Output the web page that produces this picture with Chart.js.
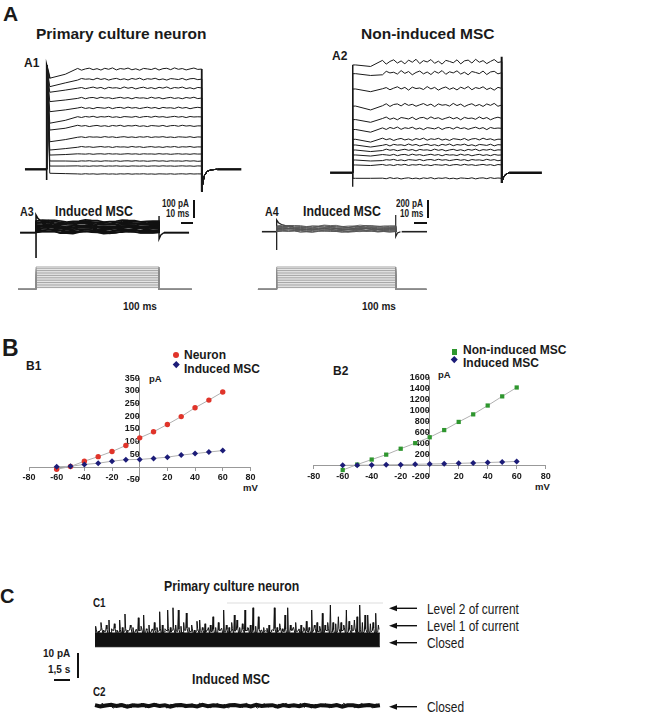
<!DOCTYPE html>
<html>
<head>
<meta charset="utf-8">
<script src="https://cdn.jsdelivr.net/npm/chart.js@4.4.1/dist/chart.umd.min.js"></script>
<style>
  body { margin: 0; width: 661px; height: 716px; position: relative; overflow: hidden; background: #fff;
         font-family: "Liberation Sans", Arial, sans-serif; color: #1a1a1a; }
  canvas { position: absolute; }
  .t { position: absolute; font-weight: bold; white-space: nowrap; line-height: 1; }
  .r { font-weight: normal; }
  .nar { display: inline-block; transform: scaleX(0.82); transform-origin: left top; }
  .bar { position: absolute; background: #111; }
</style>
</head>
<body>

<!-- panel A -->
<div class="t" style="left:3px;top:3px;font-size:21px">A</div>
<div class="t" style="left:36px;top:26px;font-size:15.5px">Primary culture neuron</div>
<div class="t" style="left:361px;top:26px;font-size:15.5px">Non-induced MSC</div>
<div class="t" style="left:24px;top:57px;font-size:12px">A1</div>
<div class="t" style="left:332px;top:50px;font-size:12px">A2</div>
<div class="t" style="left:20px;top:205px;font-size:13px"><span class="nar">A3</span></div>
<div class="t" style="left:55px;top:203px;font-size:15px"><span class="nar">Induced MSC</span></div>
<div class="t" style="left:162px;top:198.5px;font-size:10px"><span class="nar">100 pA</span></div>
<div class="t" style="left:166px;top:208.5px;font-size:10px"><span class="nar">10 ms</span></div>
<div class="t" style="left:265px;top:205px;font-size:13px"><span class="nar">A4</span></div>
<div class="t" style="left:303px;top:203px;font-size:15px"><span class="nar">Induced MSC</span></div>
<div class="t" style="left:396px;top:198.5px;font-size:10px"><span class="nar">200 pA</span></div>
<div class="t" style="left:400px;top:208.5px;font-size:10px"><span class="nar">10 ms</span></div>
<div class="t" style="left:123px;top:301.5px;font-size:10px">100 ms</div>
<div class="t" style="left:362px;top:301.5px;font-size:10px">100 ms</div>
<div class="bar" style="left:193px;top:200px;width:2px;height:18px"></div>
<div class="bar" style="left:181px;top:222px;width:12px;height:2px"></div>
<div class="bar" style="left:427px;top:200px;width:2px;height:18px"></div>
<div class="bar" style="left:414px;top:222px;width:13px;height:2px"></div>

<!-- panel B -->
<div class="t" style="left:2px;top:337px;font-size:23px">B</div>
<div class="t" style="left:26px;top:360px;font-size:12px">B1</div>
<div class="t" style="left:333px;top:365px;font-size:12px">B2</div>
<div class="t" style="left:184px;top:349px;font-size:12px">Neuron</div>
<div class="t" style="left:184px;top:363px;font-size:12px">Induced MSC</div>
<div class="t" style="left:463px;top:343.5px;font-size:12px">Non-induced MSC</div>
<div class="t" style="left:463px;top:356.5px;font-size:12px">Induced MSC</div>
<div style="position:absolute;left:173px;top:352px;width:6px;height:6px;border-radius:50%;background:#e0342a"></div>
<div style="position:absolute;left:173.5px;top:361.5px;width:4.5px;height:4.5px;background:#1c1c78;transform:rotate(45deg)"></div>
<div style="position:absolute;left:451.5px;top:349px;width:5.5px;height:5.5px;background:#2e962e"></div>
<div style="position:absolute;left:452px;top:357px;width:4.5px;height:4.5px;background:#1c1c78;transform:rotate(45deg)"></div>
<div class="t" style="left:149px;top:373.5px;font-size:9.5px">pA</div>
<div class="t" style="left:243px;top:482.5px;font-size:9.5px">mV</div>
<div class="t" style="left:438px;top:369.5px;font-size:9.5px">pA</div>
<div class="t" style="left:535px;top:481.5px;font-size:9.5px">mV</div>

<!-- panel C -->
<div class="t" style="left:0px;top:585.5px;font-size:20px">C</div>
<div class="t" style="left:164px;top:578px;font-size:15px"><span class="nar">Primary culture neuron</span></div>
<div class="t" style="left:93px;top:596.5px;font-size:12px"><span class="nar">C1</span></div>
<div class="t" style="left:192px;top:671px;font-size:15px"><span class="nar">Induced MSC</span></div>
<div class="t" style="left:93px;top:685.5px;font-size:12px"><span class="nar">C2</span></div>
<div class="t r" style="left:427px;top:601.5px;font-size:14.5px"><span class="nar">Level 2 of current</span></div>
<div class="t r" style="left:427px;top:619px;font-size:14.5px"><span class="nar">Level 1 of current</span></div>
<div class="t r" style="left:427px;top:635.5px;font-size:14.5px"><span class="nar">Closed</span></div>
<div class="t r" style="left:427px;top:700px;font-size:14.5px"><span class="nar">Closed</span></div>
<div class="t" style="left:43px;top:648.5px;font-size:10px">10 pA</div>
<div class="t" style="left:48px;top:664.5px;font-size:10px">1,5 s</div>
<div class="bar" style="left:77px;top:653px;width:2px;height:25px"></div>
<div class="bar" style="left:54px;top:678.5px;width:16px;height:2px"></div>
<div style="position:absolute;left:227px;top:601.5px;width:156px;height:2px;background:#eeeeee"></div>
<svg width="661" height="716" style="position:absolute;left:0;top:0">
  <g stroke="#111" stroke-width="1.4" fill="#111">
    <line x1="394" y1="608.3" x2="417" y2="608.3"/><polygon points="389,608.3 397,605.3 397,611.3" stroke="none"/>
    <line x1="394" y1="625.7" x2="417" y2="625.7"/><polygon points="389,625.7 397,622.7 397,628.7" stroke="none"/>
    <line x1="394" y1="642.7" x2="417" y2="642.7"/><polygon points="389,642.7 397,639.7 397,645.7" stroke="none"/>
    <line x1="394" y1="706.7" x2="417" y2="706.7"/><polygon points="389,706.7 397,703.7 397,709.7" stroke="none"/>
  </g>
</svg>

<canvas id="a1" width="230" height="145" style="left:20px;top:55px"></canvas>
<canvas id="a2" width="230" height="150" style="left:325px;top:50px"></canvas>
<canvas id="a3" width="185" height="57" style="left:15px;top:205px"></canvas>
<canvas id="a4" width="180" height="57" style="left:255px;top:205px"></canvas>
<canvas id="s3" width="185" height="35" style="left:15px;top:260px"></canvas>
<canvas id="s4" width="180" height="35" style="left:255px;top:260px"></canvas>
<canvas id="b1" width="275" height="130" style="left:0px;top:370px"></canvas>
<canvas id="b2" width="280" height="130" style="left:290px;top:370px"></canvas>
<canvas id="c1" width="300" height="55" style="left:90px;top:595px"></canvas>
<canvas id="c2" width="300" height="26" style="left:90px;top:690px"></canvas>

<script>
// voltage steps (mV), holding potential, step from 0 to 100 ms
const voltageSteps = [-60, -50, -40, -30, -20, -10, 0, 10, 20, 30, 40, 50, 60];
const holdingPotential = -70;

// B: I-V curves (pA)
const neuronCurrent = [-9, 2, 23, 41, 61, 85, 115, 139, 168, 199, 234, 264, 296];
const inducedCurrentB1 = [1, 3, 10, 15, 23, 29, 30, 34, 39, 47, 53, 59, 65];
const nonInducedCurrent = [-79, 20, 111, 200, 307, 408, 515, 645, 793, 930, 1090, 1256, 1417];
const inducedCurrentB2 = [6, 8, 10, 15, 18, 25, 30, 35, 42, 50, 57, 66, 77];

// A1: neuron current traces (pA), one per voltage step
const a1Plateau = [-26, 18, 46, 85, 124, 179, 241, 291, 341, 396, 452, 501, 557];
const a1Early = [-22, 18, 46, 79, 107, 153, 218, 256, 320, 376, 428, 459, 506];
const a1Mid = [-24, 18, 46, 82, 115, 165, 228, 272, 330, 385, 440, 480, 528];
const a1NoiseAmp = [1.5, 1.5, 2, 2, 3, 3, 4, 4, 5, 5, 6, 6, 7];
const a1Spike = [-59, 579];
const a1TailTimes = [100, 100.8, 101.8, 103.5, 106, 110];
const a1TailCurrent = [-124, -75, -35, -12, -3, 0];

// A2: non-induced MSC traces (pA)
const a2Plateau = [-62, 86, 141, 197, 252, 308, 371, 493, 604, 752, 937, 1111, 1233];
const a2Early = [-62, 86, 141, 197, 252, 308, 371, 480, 590, 740, 930, 1100, 1197];
const a2Mid = [-62, 80, 130, 185, 235, 285, 340, 450, 560, 697, 900, 1080, 1180];
const a2NoiseAmp = [8, 8, 9, 10, 11, 12, 14, 16, 18, 20, 22, 26, 30];
const a2Spike = [-156, 1197];
const a2OffSpike = [1289, -114];
const a2TailTimes = [100, 101, 102.5, 105];
const a2TailCurrent = [-114, -60, -20, 0];

// A3 / A4: induced MSC traces (pA)
const a3Wave = [4, 6, 3, -2, -5, -3, 2, 5, 4, 0, -4, -5, -1, 3, 5, 2, -2, -4, -1];
const a3OnTimes = [0, 0, 1.5, 4, 8, 14];
const a3OnCurrent = [-141, 98, 80, 65, 58, 54];
const a3OffTimes = [100, 100, 101.5, 104];
const a3OffCurrent = [93, -35, -12, 0];
const a4OnCurrent = [-203, 130, 100, 80, 65, 60];
const a4OffCurrent = [186, -56, -15, 0];

const traceNoise = [0.2, -0.6, 0.9, -0.3, 0.5, -0.9, 0.1, 0.7, -0.5, 0.3, -0.8, 0.6, -0.2, 0.9, -0.7, 0.4,
  -0.1, 0.8, -0.6, 0.2, -0.9, 0.5, 0.1, -0.4, 0.7, -0.8, 0.3, 0.6, -0.5, 0.9, -0.2, 0.4, -0.7, 0.1, 0.8,
  -0.3, 0.5, -0.9, 0.6, -0.1];

// C: single channel recordings (pA), time in s
const c1SpikeStep = 0.25;
const c1Spikes = [7.5, 5.5, 9, 6, 8, 10, 6.5, 8.5, 6, 10, 7, 12.4, 6, 8, 7, 6, 10.9, 7.5, 12, 6.5, 8, 6, 9, 7,
  13.3, 8, 6.5, 14, 7, 14.9, 8, 14, 7.5, 9, 12.8, 7, 8, 6, 9.5, 10, 7, 8.5, 6, 8, 11.3, 7, 9, 6.5, 14, 8, 7,
  9, 12, 10, 7, 8.5, 14, 7, 8, 14.9, 7.5, 11.3, 6, 7, 5.5, 8, 6, 14.9, 7, 8.5, 6.5, 12, 14.9, 8, 7, 9, 6, 8,
  7, 9.5, 7, 14, 8, 9, 7.5, 12.7, 8, 9, 16, 9, 8.5, 11.3, 9, 8, 14, 9.5, 8, 10, 11.3, 16, 9, 12, 12, 8.5, 9,
  12.7, 8];
const c1ClosedBand = [-0.7, 4.8];
const c1Duration = 26.7;
const c2Noise = [0.3, -0.4, 0.1, 0.5, -0.2, 0.4, -0.5, 0.2, 0, 0.4, -0.3, 0.5, -0.1, 0.3, -0.5, 0.2, 0.4, -0.2,
  0.1, -0.4, 0.5, -0.3, 0.2, 0, -0.5, 0.3, 0.4, -0.1, 0.2, -0.4, 0.5, -0.2, 0.1, 0.3, -0.5, 0.4, -0.1, 0.2,
  -0.3, 0.5, 0, -0.4, 0.3, 0.1, -0.2, 0.4, -0.5, 0.2, 0.3, -0.3, 0.1, 0.4, -0.2, 0.3];

const pt = (x, y) => ({ x, y });

const line = (data, color, width) => ({
  type: "line",
  data,
  borderColor: color,
  borderWidth: width,
  pointRadius: 0,
  fill: false,
  tension: 0,
  clip: false,
});

const traceOptions = (xMin, xMax, yMin, yMax) => ({
  responsive: false,
  animation: false,
  events: [],
  layout: { padding: 0 },
  plugins: { legend: { display: false }, tooltip: { enabled: false } },
  scales: {
    x: { type: "linear", display: false, min: xMin, max: xMax },
    y: { type: "linear", display: false, min: yMin, max: yMax },
  },
});

const makeChart = (id, datasets, options) =>
  new Chart(document.getElementById(id), { type: "line", data: { datasets }, options });

// step traces for A1 / A2
const buildStepTrace = (cfg, i) => {
  const d = [pt(0, 0), pt(0, cfg.onset === null ? cfg.early[i] : cfg.onset), pt(2, cfg.early[i]), pt(12, cfg.mid[i])];
  for (let k = 0; k < 32; k++) {
    const n = traceNoise[(k + 7 * i) % traceNoise.length];
    d.push(pt(20 + 2.5 * k, cfg.plateau[i] + n * cfg.noise[i]));
  }
  d.push(pt(100, cfg.plateau[i]));
  cfg.tailTimes.forEach((t, j) => d.push(pt(t, cfg.tailCurrent[j])));
  return d;
};

const a1Config = { onset: a1Spike[1], early: a1Early, mid: a1Mid, plateau: a1Plateau, noise: a1NoiseAmp,
  tailTimes: a1TailTimes, tailCurrent: a1TailCurrent };
const a1Sets = voltageSteps.map((v, i) => line(buildStepTrace(a1Config, i), "#1a1a1a", 1));
a1Sets.push(line([pt(0, a1Spike[0]), pt(0, a1Spike[1]), pt(1, 545), pt(2, a1Early[12])], "#111", 1.6));
a1Sets.push(line([pt(100, a1Plateau[12]), pt(100, a1TailCurrent[0])], "#111", 1.6));
a1Sets.push(line([pt(-14, 0), pt(0, 0)], "#111", 2.4));
a1Sets.push(line([pt(110, 0), pt(125.6, 0)], "#111", 2.4));
makeChart("a1", a1Sets, traceOptions(-17.2, 131.2, -170.6, 635));

const a2Config = { onset: null, early: a2Early, mid: a2Mid, plateau: a2Plateau, noise: a2NoiseAmp,
  tailTimes: a2TailTimes, tailCurrent: a2TailCurrent };
const a2Sets = voltageSteps.map((v, i) => line(buildStepTrace(a2Config, i), "#1a1a1a", 1));
a2Sets.push(line([pt(0, a2Spike[0]), pt(0, a2Spike[1])], "#111", 1.3));
a2Sets.push(line([pt(100, a2OffSpike[0]), pt(100, a2OffSpike[1])], "#111", 2));
a2Sets.push(line([pt(-15.2, 0), pt(0, 0)], "#111", 2.4));
a2Sets.push(line([pt(105, 0), pt(127, 0)], "#111", 2.4));
makeChart("a2", a2Sets, traceOptions(-18.6, 135.8, -303, 1363));

// A3 / A4 induced MSC
const buildSmallTrace = (level, i, noiseAmp) => {
  const d = [pt(0, 0), pt(0, level)];
  a3Wave.forEach((w, k) => {
    d.push(pt(5 + 5 * k, level + w + traceNoise[(k + 7 * i) % traceNoise.length] * noiseAmp));
  });
  d.push(pt(100, level), pt(100, 0));
  return d;
};

const a3Sets = inducedCurrentB1.map((c, i) => line(buildSmallTrace(c, i, 3), "#111", 1.7));
a3Sets.push(line(a3OnTimes.map((t, j) => pt(t, a3OnCurrent[j])), "#111", 1.6));
a3Sets.push(line(a3OffTimes.map((t, j) => pt(t, a3OffCurrent[j])), "#111", 1.4));
a3Sets.push(line([pt(-13, 0), pt(0, 0)], "#111", 2));
a3Sets.push(line([pt(104, 0), pt(124.4, 0)], "#111", 2));
makeChart("a3", a3Sets, traceOptions(-17.1, 133.3, -163, 154));

const a4Sets = inducedCurrentB1.map((c, i) => line(buildSmallTrace(c, i, 6), "#555", 0.9));
a4Sets.push(line(a3OnTimes.map((t, j) => pt(t, a4OnCurrent[j])), "#222", 1.3));
a4Sets.push(line(a3OffTimes.map((t, j) => pt(t, a4OffCurrent[j])), "#222", 1.2));
a4Sets.push(line([pt(-12.4, 0), pt(0, 0)], "#222", 1.6));
a4Sets.push(line([pt(105, 0), pt(126.3, 0)], "#222", 1.6));
makeChart("a4", a4Sets, traceOptions(-18.2, 133, -337, 297));

// voltage protocol
const stimSets = (start, end) => voltageSteps.map((v) =>
  line([pt(start, holdingPotential), pt(0, holdingPotential), pt(0, v), pt(100, v), pt(100, holdingPotential),
    pt(end, holdingPotential)], "#8c8c8c", 0.8));
makeChart("s3", stimSets(-14.6, 126.6), traceOptions(-17.1, 133.3, -103.2, 100.8));
makeChart("s4", stimSets(-15.7, 125.8), traceOptions(-18.2, 133, -103.2, 100.8));

// B: I-V charts
const tickFont = { family: "Liberation Sans", size: 9, weight: "bold" };

const ivOptions = (yMin, yMax, yStep, padding) => ({
  responsive: false,
  animation: false,
  events: [],
  layout: { padding },
  plugins: { legend: { display: false }, tooltip: { enabled: false } },
  scales: {
    x: {
      type: "linear", min: -80, max: 80, position: { y: 0 },
      ticks: { stepSize: 20, font: tickFont, color: "#1a1a1a", padding: 2, maxRotation: 0, autoSkip: false,
        callback: (v) => (v === 0 ? "" : v) },
      grid: { display: true, drawOnChartArea: false, tickLength: 3, color: "#999" },
      border: { color: "#999" },
      afterFit: (scale) => { scale.height = 0; },
    },
    y: {
      type: "linear", min: yMin, max: yMax, position: { x: 0 },
      ticks: { stepSize: yStep, font: tickFont, color: "#1a1a1a", padding: 2, autoSkip: false,
        callback: (v) => (v === 0 ? "" : v) },
      grid: { display: true, drawOnChartArea: false, tickLength: 3, color: "#999" },
      border: { color: "#999" },
      afterFit: (scale) => { scale.width = 0; },
    },
  },
});

const ivSet = (values, color, style, radius) => ({
  type: "line",
  data: voltageSteps.map((v, i) => pt(v, values[i])),
  borderColor: "#b0b0b0",
  borderWidth: 1,
  pointStyle: style,
  pointRadius: radius,
  pointBackgroundColor: color,
  pointBorderColor: color,
  pointBorderWidth: 0,
  tension: 0,
  clip: false,
});

makeChart("b1", [
  ivSet(inducedCurrentB1, "#1c1c78", "rectRot", 3),
  ivSet(neuronCurrent, "#e0342a", "circle", 2.7),
], ivOptions(-50, 350, 50, { left: 29, right: 24.6, top: 8.3, bottom: 20.3 }));

makeChart("b2", [
  ivSet(inducedCurrentB2, "#1c1c78", "rectRot", 3),
  ivSet(nonInducedCurrent, "#2e962e", "rect", 3),
], ivOptions(-200, 1600, 200, { left: 23.7, right: 24.3, top: 5.7, bottom: 23.3 }));

// C1 single channel openings, closed band edge jitter reuses the trace noise
const c1Trace = [];
c1Spikes.forEach((h, i) => {
  const t = i * c1SpikeStep;
  const base = c1ClosedBand[1] + traceNoise[i % traceNoise.length] * 1.3;
  c1Trace.push(pt(t, base), pt(t + 0.06, h), pt(t + 0.12, base + 1));
});
makeChart("c1", [
  line([pt(0, c1ClosedBand[0]), pt(c1Duration, c1ClosedBand[0])], "#111", 1),
  { ...line([pt(0, c1ClosedBand[1]), pt(c1Duration, c1ClosedBand[1])], "#111", 1), fill: "-1", backgroundColor: "#111" },
  line(c1Trace, "#111", 1),
], traceOptions(-0.469, 27.65, -2, 20));

const c2Step = c1Duration / (c2Noise.length - 1);
const c2Fine = c1Duration / (traceNoise.length * 2 - 1);
makeChart("c2", [
  line(c2Noise.map((n, i) => pt(i * c2Step, n * 0.7)), "#111", 4),
  line(traceNoise.concat(traceNoise).map((n, i) => pt(i * c2Fine, n * 1.1)), "#111", 1),
], traceOptions(-0.469, 27.65, -4.12, 6.28));
</script>
</body>
</html>
